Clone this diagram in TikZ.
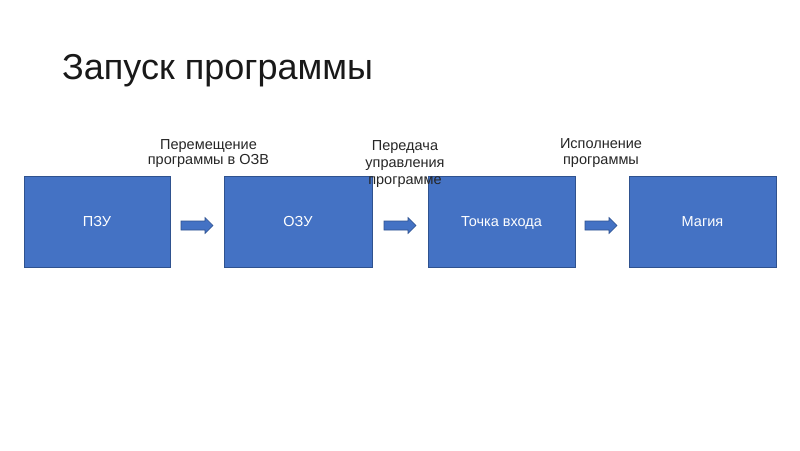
\documentclass[tikz,border=0pt]{standalone}
\usepackage{fontspec}
\setmainfont{Liberation Sans}
\definecolor{boxfill}{HTML}{4472C4}
\definecolor{boxline}{HTML}{2F528F}
\begin{document}
\begin{tikzpicture}[x=1pt,y=-1pt,
  box/.style={draw=boxline,line width=0.6pt,fill=boxfill},
  boxtext/.style={text=white,inner sep=0pt,anchor=base,
    font=\fontsize{14.5}{16}\selectfont},
  lbl/.style={align=center,inner sep=0pt,anchor=north,text=black!85},
  blockarrow/.style={draw=boxline,line width=0.6pt,fill=boxfill}]
\useasboundingbox (0,0) rectangle (800,450);
\fill[white] (0,0) rectangle (800,450);
\node[anchor=base west,inner sep=0pt,text=black!90,font=\fontsize{36}{40}\selectfont] (title) at (62,79) {Запуск программы};
\draw[box] (24,176) rectangle (170,267);
\node[boxtext] (pzu) at (97,226) {ПЗУ};
\draw[box] (224,176) rectangle (372,267);
\node[boxtext] (ozu) at (298,226) {ОЗУ};
\draw[box] (428,176) rectangle (575,267);
\node[boxtext] (entry) at (501.5,226) {Точка входа};
\draw[box] (629,176) rectangle (776,267);
\node[boxtext] (magic) at (702.5,226) {Магия};
\foreach \x/\n in {181/a1,384/a2,585/a3}{
  \coordinate (\n) at (\x,225.5);
  \draw[blockarrow] (\n) ++(0,-4.5) -- ++(24,0) -- ++(0,-3.5) -- ++(8,8)
    -- ++(-8,8) -- ++(0,-3.5) -- ++(-24,0) -- cycle;
}
\node[lbl,font=\fontsize{14.5}{15.5}\selectfont] (l1) at (208.5,139) {Перемещение\\программы в ОЗВ};
\node[lbl,font=\fontsize{14.5}{17}\selectfont] (l2) at (405,140.3) {Передача\\управления\\программе};
\node[lbl,font=\fontsize{14.5}{16}\selectfont] (l3) at (601,138) {Исполнение\\программы};
\end{tikzpicture}
\end{document}
